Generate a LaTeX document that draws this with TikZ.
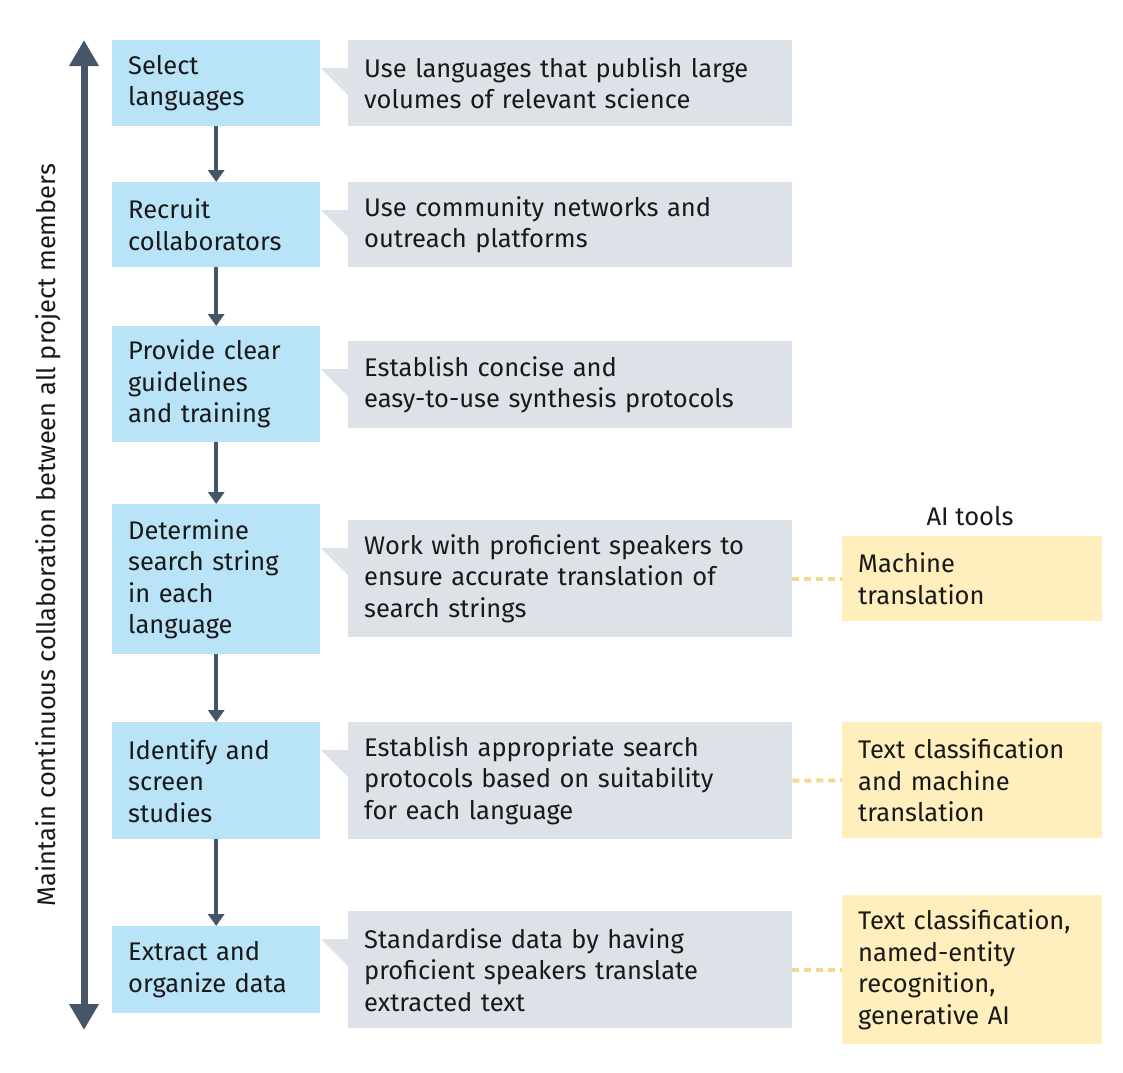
\documentclass[tikz,border=0pt]{standalone}
\usetikzlibrary{arrows.meta}
\usepackage{fontspec}
\setmainfont{Fira Sans}
\definecolor{bl}{HTML}{B9E4F8}
\definecolor{gr}{HTML}{DDE2E9}
\definecolor{ye}{HTML}{FEEFBC}
\definecolor{ar}{HTML}{465669}
\definecolor{dot}{HTML}{F2D98C}
\begin{document}
\begin{tikzpicture}[x=1pt,y=-1pt,
 every node/.style={font=\fontsize{25.5}{31.5}\selectfont, text=black!90},
 box/.style={anchor=north west, inner xsep=16pt, inner ysep=0pt, align=left, draw=none},
 blue/.style={box, fill=bl, minimum width=208pt, text width=176pt},
 grey/.style={box, fill=gr, minimum width=444pt, text width=412pt},
 yel/.style={box, fill=ye, minimum width=260pt, text width=228pt},
 flow/.style={ar, line width=4pt, -{Triangle[length=12pt,width=16pt]}},
 link/.style={dot, line width=4pt, dash pattern=on 7pt off 5pt}]
\useasboundingbox (0,0) rectangle (1123,1072);
\newcommand{\bx}[5]{\node[#1, minimum height=#4pt] (#2) at (#3) {#5};}
\bx{blue}{b1}{112,40}{86}{Select\\languages}
\bx{blue}{b2}{112,182}{85}{Recruit\\collaborators}
\bx{blue}{b3}{112,326}{116}{Provide clear\\guidelines\\and training}
\bx{blue}{b4}{112,504}{150}{Determine\\search string\\in each\\language}
\bx{blue}{b5}{112,722}{117}{Identify and\\screen\\studies}
\bx{blue}{b6}{112,926}{87}{Extract and\\organize data}
\bx{grey}{g1}{348,40}{86}{Use languages that publish large\\volumes of relevant science}
\bx{grey}{g2}{348,182}{85}{Use community networks and\\outreach platforms}
\bx{grey}{g3}{348,341}{87}{Establish concise and\\easy-to-use synthesis protocols}
\bx{grey}{g4}{348,520}{117}{Work with proficient speakers to\\ensure accurate translation of\\search strings}
\bx{grey}{g5}{348,722}{117}{Establish appropriate search\\protocols based on suitability\\for each language}
\bx{grey}{g6}{348,911}{117}{Standardise data by having\\proficient speakers translate\\extracted text}
\foreach \g in {g1,g2,g3,g4,g5,g6}
  \fill[gr] ([yshift=-28pt]\g.north west) -- ++(-27,0) -- ++(27,27) -- cycle;
\bx{yel}{y1}{842,536}{85}{Machine\\translation}
\bx{yel}{y2}{842,722}{116}{Text classification\\and machine\\translation}
\bx{yel}{y3}{842,895}{149}{Text classification,\\named-entity\\recognition,\\generative AI}
\node (ai) at (970,516) {AI tools};
\foreach \a/\b in {b1/b2,b2/b3,b3/b4,b4/b5,b5/b6}
  \draw[flow] (\a.south) -- (\b.north);
\draw[link] (g4.east) -- (y1.west |- g4.east);
\draw[link] (g5.east) -- (y2.west);
\draw[link] (g6.east) -- (y3.west |- g6.east);
\coordinate (top) at (84,40);
\coordinate (bot) at (84,1030);
\draw[ar, line width=7pt, {Triangle[length=26pt,width=28pt]}-{Triangle[length=26pt,width=28pt]}] (top) -- (bot);
\node[rotate=90] (lab) at (48,535) {Maintain continuous collaboration between all project members};
\end{tikzpicture}
\end{document}
